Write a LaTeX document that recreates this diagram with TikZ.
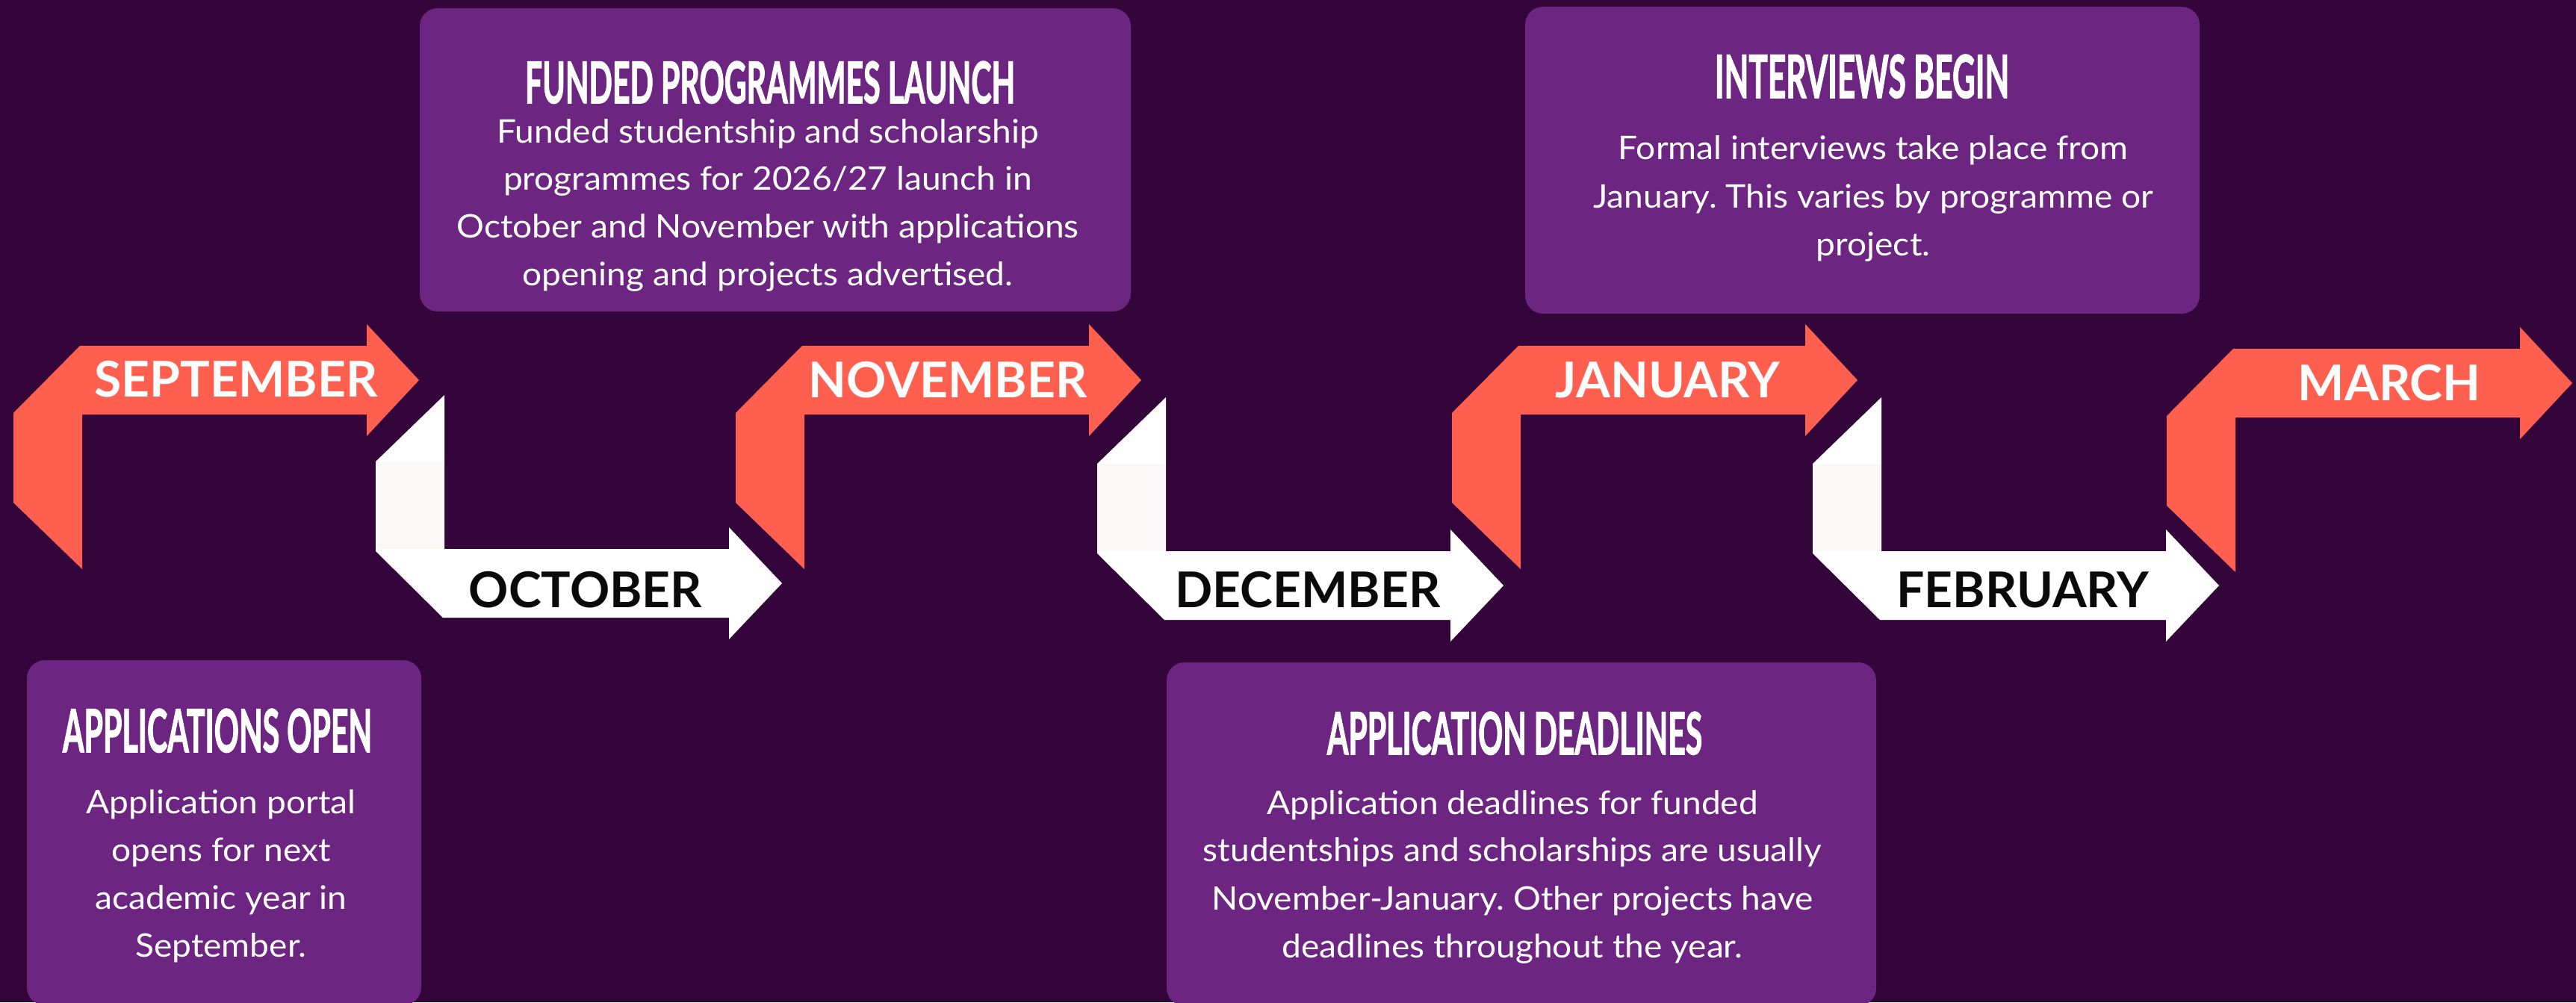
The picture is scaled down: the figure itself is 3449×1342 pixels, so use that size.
\documentclass[tikz,border=0pt]{standalone}
\usepackage{fontspec}
\setmainfont{Lato}
\newfontfamily\titlefont{Lato}[BoldFeatures={FakeBold=2}]
\newfontfamily\bodyfont{Lato}[FakeStretch=1.06]
\usepackage{graphicx}
\frenchspacing
\definecolor{bg}{RGB}{51,5,58}
\definecolor{boxc}{RGB}{108,37,129}
\definecolor{coral}{RGB}{255,95,79}
\definecolor{offwhite}{RGB}{251,249,247}
\definecolor{ink}{RGB}{10,10,10}
\newcommand\ribbonUp[2]{%
  \fill[coral] ({#1+89},#2) -- ({#1+473},#2) -- ({#1+473},{#2-29}) -- ({#1+543},{#2+46})
    -- ({#1+473},{#2+121}) -- ({#1+473},{#2+92}) -- ({#1+92},{#2+92}) -- ({#1+92},{#2+299})
    -- (#1,{#2+210}) -- (#1,{#2+90}) -- cycle;}
\newcommand\ribbonDown[2]{%
  \fill[white] ({#1+92},{#2-298}) -- (#1,{#2-209}) -- (#1,{#2-89}) -- ({#1+90},#2)
    -- ({#1+473},#2) -- ({#1+473},{#2+29}) -- ({#1+544},{#2-46}) -- ({#1+473},{#2-121})
    -- ({#1+473},{#2-92}) -- ({#1+92},{#2-92}) -- cycle;
  \fill[offwhite] (#1,{#2-209}) rectangle ({#1+92},{#2-92});}
\begin{document}
\begin{tikzpicture}[x=1pt,y=-1pt,
  infobox/.style={fill=boxc, rounded corners=24pt, inner sep=0pt},
  monthw/.style={anchor=base, inner sep=0pt, text=white, font=\fontsize{66}{70}\selectfont\bfseries},
  monthk/.style={anchor=base, inner sep=0pt, text=ink, font=\fontsize{66}{70}\selectfont\bfseries},
  title/.style={anchor=base, inner sep=0pt, text=white},
  body/.style={anchor=base, inner sep=0pt, text=white, font=\bodyfont\fontsize{43.5}{50}\selectfont}]
\fill[bg] (0,0) rectangle (3449,1342);
\useasboundingbox (0,0) rectangle (3449,1342);
\clip (0,0) rectangle (3449,1342);

% ribbons
\ribbonUp{18}{463}
\ribbonDown{503}{827}
\ribbonUp{985}{463}
\ribbonDown{1469}{830}
\ribbonUp{1944}{463}
\ribbonDown{2427}{830}
\ribbonUp{2901}{467}

% month labels
\node[monthw] (sep) at (316,531) {SEPTEMBER};
\node[monthk] (oct) at (784,813) {OCTOBER};
\node[monthw] (nov) at (1269,532) {NOVEMBER};
\node[monthk] (dec) at (1751,813) {DECEMBER};
\node[monthw] (jan) at (2233,532) {JANUARY};
\node[monthk] (feb) at (2708,813) {FEBRUARY};
\node[monthw] (mar) at (3199,536) {MARCH};

% boxes
\node[infobox, minimum width=528pt, minimum height=462pt] (aobox) at (300,1115) {};
\node[infobox, minimum width=952pt, minimum height=406pt] (fpbox) at (1038,214) {};
\node[infobox, minimum width=903pt, minimum height=411pt] (ibbox) at (2493.5,214.5) {};
\node[infobox, minimum width=950pt, minimum height=460pt] (adbox) at (2037,1117) {};

% titles
\node[title] (aot) at (291,1007) {\resizebox{414pt}{58pt}{\titlefont\bfseries APPLICATIONS OPEN}};
\node[title] (fpt) at (1031,138) {\resizebox{656pt}{56pt}{\titlefont\bfseries FUNDED PROGRAMMES LAUNCH}};
\node[title] (ibt) at (2493,131) {\resizebox{394pt}{58pt}{\titlefont\bfseries INTERVIEWS BEGIN}};
\node[title] (adt) at (2028,1010) {\resizebox{502pt}{57pt}{\titlefont\bfseries APPLICATION DEADLINES}};

% body text
\node[body] (ao1) at (296,1089) {Application portal};
\node[body] (ao2) at (296,1153) {opens for next};
\node[body] (ao3) at (296,1217) {academic year in};
\node[body] (ao4) at (296,1281) {September.};

\node[body] (fp1) at (1028,191) {Funded studentship and scholarship};
\node[body] (fp2) at (1028,254) {programmes for 2026/27 launch in};
\node[body] (fp3) at (1028,318) {October and November with applications};
\node[body] (fp4) at (1028,382) {opening and projects advertised.};

\node[body] (ib1) at (2508,213) {Formal interviews take place from};
\node[body] (ib2) at (2508,278) {January. This varies by programme or};
\node[body] (ib3) at (2508,342) {project.};

\node[body] (ad1) at (2025,1090) {Application deadlines for funded};
\node[body] (ad2) at (2025,1153) {studentships and scholarships are usually};
\node[body] (ad3) at (2025,1218) {November-January. Other projects have};
\node[body] (ad4) at (2025,1282) {deadlines throughout the year.};
\end{tikzpicture}
\end{document}
